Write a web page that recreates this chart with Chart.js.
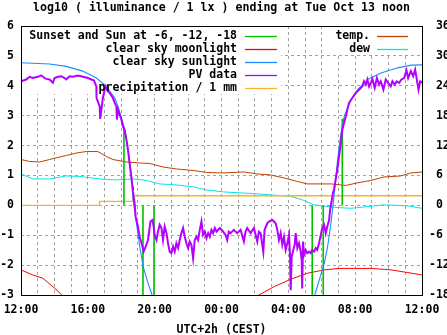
<!DOCTYPE html>
<html>
<head>
<meta charset="utf-8">
<script src="https://cdn.jsdelivr.net/npm/chart.js@4/dist/chart.umd.min.js"></script>
<style>
  html, body { margin: 0; padding: 0; background: #fff; }
  #wrap { width: 447px; height: 335px; }
</style>
</head>
<body>
<div id="wrap"><canvas id="c" width="447" height="335"></canvas></div>
<script>
// ---- text ----
const titleText = 'log10 ( illuminance / 1 lx ) ending at Tue Oct 13 noon';
const xAxisTitle = 'UTC+2h (CEST)';
const hourLabels = ['12:00', '16:00', '20:00', '00:00', '04:00', '08:00', '12:00'];

// ---- photovoltaic sensor, log10(lx); x = hours since 12:00 ----
const pvHours = [
  0.01, 0.31, 0.51, 0.71, 1.01, 1.21, 1.41, 1.51, 1.71, 1.91,
  2.01, 2.21, 2.41, 2.61, 2.71, 2.91, 3.11, 3.41, 3.71, 4.01,
  4.21, 4.36, 4.51, 4.52, 4.60, 4.71, 4.74, 4.81, 4.90, 5.01,
  5.07, 5.20, 5.31, 5.50, 5.61, 5.71, 5.74, 5.80, 5.91, 6.01,
  6.10, 6.20, 6.31, 6.40, 6.55, 6.67, 6.70, 6.80, 6.86, 7.00,
  7.10, 7.27, 7.34, 7.46, 7.60, 7.75, 7.87, 7.94, 8.00, 8.11,
  8.20, 8.30, 8.41, 8.50, 8.60, 8.71, 8.80, 8.90, 9.00, 9.10,
  9.20, 9.30, 9.40, 9.50, 9.60, 9.70, 9.80, 9.90, 10.00, 10.10,
  10.20, 10.30, 10.40, 10.50, 10.60, 10.70, 10.80, 10.90, 11.00, 11.10,
  11.20, 11.30, 11.40, 11.50, 11.60, 11.70, 11.90, 12.10, 12.24, 12.34,
  12.44, 12.54, 12.74, 12.94, 13.14, 13.34, 13.44, 13.54, 13.74, 13.94,
  14.14, 14.24, 14.34, 14.50, 14.58, 14.74, 14.84, 15.04, 15.14, 15.24,
  15.34, 15.44, 15.54, 15.64, 15.74, 15.84, 15.94, 16.04, 16.10, 16.14,
  16.20, 16.30, 16.38, 16.44, 16.54, 16.64, 16.74, 16.80, 16.83, 16.88,
  16.94, 17.04, 17.13, 17.24, 17.34, 17.43, 17.54, 17.64, 17.73, 17.84,
  17.94, 18.03, 18.14, 18.24, 18.33, 18.44, 18.50, 18.57, 18.67, 18.73,
  18.93, 19.14, 19.23, 19.44, 19.63, 19.83, 20.04, 20.23, 20.43, 20.53,
  20.64, 20.73, 20.83, 20.94, 21.03, 21.17, 21.30, 21.43, 21.53, 21.69,
  21.83, 21.97, 22.13, 22.23, 22.37, 22.49, 22.63, 22.77, 22.93, 23.07,
  23.17, 23.33, 23.47, 23.59, 23.69, 23.79, 23.89, 24.00
];
const pvLog = [
  4.15, 4.21, 4.30, 4.26, 4.30, 4.35, 4.26, 4.23, 4.21, 4.10,
  4.26, 4.30, 4.32, 4.26, 4.21, 4.32, 4.30, 4.34, 4.30, 4.26,
  4.21, 4.18, 3.98, 3.59, 3.48, 3.31, 2.89, 3.20, 3.59, 3.87,
  3.98, 3.81, 3.76, 3.59, 3.43, 3.31, 2.87, 3.20, 3.03, 2.87,
  2.64, 2.53, 2.20, 1.86, 1.19, 0.63, 0.46, 0.07, -0.38, -0.71,
  -1.05, -1.38, -1.55, -1.38, -1.16, -0.54, -0.49, -0.71, -0.99, -1.16,
  -0.88, -0.65, -0.76, -1.16, -0.71, -0.93, -1.27, -1.55, -1.60, -1.38,
  -1.55, -1.27, -1.43, -1.16, -0.93, -0.76, -1.05, -1.27, -1.43, -1.21,
  -1.32, -1.77, -1.16, -1.05, -1.16, -0.82, -0.54, -0.99, -0.88, -1.10,
  -0.93, -1.05, -0.82, -0.93, -0.76, -0.88, -0.76, -0.88, -0.99, -1.16,
  -0.88, -0.93, -0.82, -0.93, -0.82, -1.21, -0.88, -0.76, -0.93, -0.76,
  -1.21, -0.88, -0.93, -1.55, -0.82, -0.60, -0.54, -0.49, -0.54, -0.60,
  -0.82, -1.16, -0.93, -1.32, -1.05, -1.49, -1.27, -0.99, -1.66, -2.84,
  -1.72, -1.49, -1.32, -0.93, -1.43, -1.27, -1.55, -1.83, -2.78, -1.21,
  -1.66, -1.49, -1.60, -1.55, -1.60, -1.49, -1.55, -1.43, -1.49, -1.27,
  -0.99, -0.76, -0.65, -0.93, -0.71, -0.49, -0.15, 0.07, 0.41, 0.52,
  1.19, 2.09, 2.53, 2.98, 3.43, 3.59, 3.76, 3.87, 3.98, 4.15,
  4.04, 4.21, 3.98, 4.10, 4.23, 3.93, 4.26, 4.04, 4.15, 3.87,
  4.21, 4.10, 3.98, 4.15, 4.04, 4.15, 4.10, 4.21, 4.26, 4.52,
  4.26, 4.49, 4.32, 4.54, 4.21, 3.87, 4.15, 4.10
];

// ---- modelled clear sky sunlight (null = below the plot range) ----
const sunHours = [0, 1.71, 2.71, 3.69, 4.51, 5.11, 5.61, 5.81, 6.01, 6.21, 6.41, 6.61, 6.71, 6.91, 7.11, 7.31, 7.61, 7.81, 7.92,
                  12.0,
                  17.5, 17.85, 18.15, 18.35, 18.55, 18.71, 18.75, 18.95, 19.15, 19.35, 19.75, 20.15, 20.75, 21.55, 22.55, 23.35, 24];
const sunLog = [4.77, 4.73, 4.65, 4.49, 4.26, 3.98, 3.59, 3.31, 2.92, 2.53, 1.86, 0.97, 0.18, -0.60, -1.38, -2.05, -2.61, -2.94, -3.15,
                null,
                -3.15, -2.50, -1.94, -1.38, -0.60, 0.18, 0.41, 1.53, 2.42, 2.98, 3.54, 3.87, 4.21, 4.43, 4.60, 4.69, 4.70];

// ---- modelled clear sky moonlight ----
const moonHours = [0, 0.71, 1.31, 1.91, 2.41, 2.52, 8.0, 14.08, 15.15, 16.15, 17.15, 18.15, 19.05, 20.95, 22.15, 23.15, 24];
const moonLog = [-2.16, -2.33, -2.44, -2.72, -2.98, -3.05, null, -3.05, -2.72, -2.47, -2.27, -2.16, -2.11, -2.11, -2.16, -2.25, -2.33];

// ---- sunset / twilight marks: hour and the far end of each mark ----
const eventHours = [6.16, 7.30, 7.96, 17.43, 18.09, 19.23];
const eventEnd = [2.6, -3.2, -3.2, -3.2, -3.2, 2.9];

// ---- precipitation, log scale units ----
const rainHours = [0, 4.70, 6.70, 24];
const rainLog = [0, 0.13, 0.32, 0.32];

// ---- temperature and dew point, deg C (right axis) ----
const tempHours = [0, 0.51, 1.11, 1.71, 2.31, 2.71, 3.31, 3.91, 4.60, 5.11, 5.50, 6.31, 7.10, 7.70, 8.50, 9.30, 10.30, 11.10, 12.10,
                   13.34, 14.14, 14.94, 15.74, 16.54, 17.13, 18.54, 19.44, 20.13, 20.94, 21.73, 22.73, 23.33, 24];
const tempC = [9.2, 8.8, 8.7, 9.2, 9.7, 10.0, 10.5, 10.8, 10.8, 9.8, 9.2, 8.7, 8.5, 8.4, 7.7, 7.3, 7.0, 6.6, 6.5,
               6.7, 6.3, 6.1, 5.5, 4.8, 4.3, 4.3, 4.0, 4.5, 5.0, 5.7, 5.9, 6.5, 6.7];
const dewHours = [0, 0.71, 1.71, 2.71, 3.51, 4.71, 5.71, 6.71, 7.50, 8.30, 9.30, 10.30, 11.10, 12.10, 14.14, 16.14, 16.84, 17.54,
                  18.74, 19.74, 21.73, 23.13, 24];
const dewC = [6.3, 5.3, 5.3, 5.9, 5.8, 5.3, 5.1, 5.3, 5.0, 4.3, 4.1, 3.7, 3.1, 2.7, 2.3, 1.8, 1.1, 0.1,
              -0.4, -0.6, 0.1, -0.1, -0.6];

// ---- helpers ----
const pts = (xs, ys) => xs.map((x, i) => ({ x, y: ys[i] }));
const eventPts = [];
eventHours.forEach((h, i) => {
  eventPts.push({ x: h, y: 0 }, { x: h, y: eventEnd[i] }, { x: h, y: null });
});

const FONT = '"DejaVu Sans Mono", "Liberation Mono", monospace';
const fontSpec = (px) => ({ family: FONT, size: px, weight: 'bold' });

const lineDefaults = { pointRadius: 0, tension: 0, fill: false, spanGaps: false, clip: 0 };

const datasets = [
  { ...lineDefaults, label: 'Sunset and Sun at -6, -12, -18', data: eventPts, borderColor: '#00c000', borderWidth: 1.6, order: 3, yAxisID: 'y' },
  { ...lineDefaults, label: 'clear sky moonlight', data: pts(moonHours, moonLog), borderColor: '#ff0000', borderWidth: 1, order: 4, yAxisID: 'y' },
  { ...lineDefaults, label: 'clear sky sunlight', data: pts(sunHours, sunLog), borderColor: '#1e8cff', borderWidth: 1.1, order: 2, yAxisID: 'y' },
  { ...lineDefaults, label: 'PV data', data: pts(pvHours, pvLog), borderColor: '#b400ff', borderWidth: 2, order: 1, yAxisID: 'y' },
  { ...lineDefaults, label: 'precipitation / 1 mm', data: pts(rainHours, rainLog), borderColor: '#f8b42a', borderWidth: 1.3, stepped: true, order: 5, yAxisID: 'y' },
  { ...lineDefaults, label: 'temp.', data: pts(tempHours, tempC), borderColor: '#c04000', borderWidth: 1, order: 6, yAxisID: 'y2' },
  { ...lineDefaults, label: 'dew', data: pts(dewHours, dewC), borderColor: '#00e6e6', borderWidth: 1, order: 7, yAxisID: 'y2' }
];

// gnuplot-like keys, frame and titles
const gnuKey = {
  id: 'gnuKey',
  beforeDatasetsDraw(chart) {
    const ctx = chart.ctx, a = chart.chartArea;
    ctx.save();
    ctx.fillStyle = '#ffffff';
    ctx.fillRect(a.left + 1, a.top + 1, 259, 67);
    ctx.fillRect(327, a.top + 1, a.right - 328, 28);
    ctx.restore();
  },
  afterDraw(chart) {
    const ctx = chart.ctx, a = chart.chartArea;
    const ds = chart.data.datasets;
    ctx.save();
    // frame
    ctx.strokeStyle = '#000';
    ctx.lineWidth = 1;
    ctx.strokeRect(a.left + 0.5, a.top + 0.5, a.right - a.left, a.bottom - a.top);
    ctx.fillStyle = '#000';
    ctx.font = 'bold 11.6px ' + FONT;
    ctx.textAlign = 'center';
    ctx.textBaseline = 'alphabetic';
    ctx.fillText(titleText, (a.left + a.right) / 2, 10.5);
    ctx.font = 'bold 11.5px ' + FONT;
    ctx.fillText(xAxisTitle, (a.left + a.right) / 2, 332.5);
    // keys
    const drawKey = (indices, textRight, x0, x1) => {
      indices.forEach((di, r) => {
        const y = a.top + 10 + r * 13;
        ctx.fillStyle = '#000';
        ctx.textAlign = 'right';
        ctx.textBaseline = 'middle';
        ctx.fillText(ds[di].label, textRight, y);
        ctx.strokeStyle = ds[di].borderColor;
        ctx.lineWidth = 1.3;
        ctx.beginPath();
        ctx.moveTo(x0, y + 0.5);
        ctx.lineTo(x1, y + 0.5);
        ctx.stroke();
      });
    };
    drawKey([0, 1, 2, 3, 4], 237, 245, 277);
    drawKey([5, 6], 370, 377, 408);
    ctx.restore();
  }
};

new Chart(document.getElementById('c'), {
  type: 'line',
  data: { datasets },
  options: {
    responsive: false,
    animation: false,
    devicePixelRatio: 1,
    layout: { padding: { top: 26, left: 0, right: 0, bottom: 0 } },
    plugins: { legend: { display: false }, tooltip: { enabled: false }, title: { display: false } },
    scales: {
      x: {
        type: 'linear',
        min: 0, max: 24,
        afterFit: (s) => { s.height = 40; s.paddingLeft = 0; s.paddingRight = 0; },
        grid: { color: '#a0a0a0', lineWidth: 1, drawTicks: false },
        border: { display: false, dash: [3, 3] },
        ticks: {
          stepSize: 1, autoSkip: false, maxRotation: 0, padding: 8,
          color: '#000', font: fontSpec(11.5),
          callback: (v) => (v % 4 === 0 ? hourLabels[v / 4] : '')
        }
      },
      y: {
        position: 'left',
        min: -3, max: 6,
        afterFit: (s) => { s.width = 21; s.paddingTop = 0; s.paddingBottom = 0; },
        grid: { color: '#a0a0a0', lineWidth: 1, drawTicks: false },
        border: { display: false, dash: [3, 3] },
        ticks: { stepSize: 1, padding: 7, color: '#000', font: fontSpec(11.5) }
      },
      y2: {
        position: 'right',
        min: -18, max: 36,
        afterFit: (s) => { s.width = 25; s.paddingTop = 0; s.paddingBottom = 0; },
        grid: { display: false, drawTicks: false },
        border: { display: false },
        ticks: {
          stepSize: 6, padding: 7, color: '#000', font: fontSpec(11.5),
          callback: (v) => (v >= 0 ? ' ' + v : String(v))
        }
      }
    }
  },
  plugins: [gnuKey]
});
</script>
</body>
</html>
